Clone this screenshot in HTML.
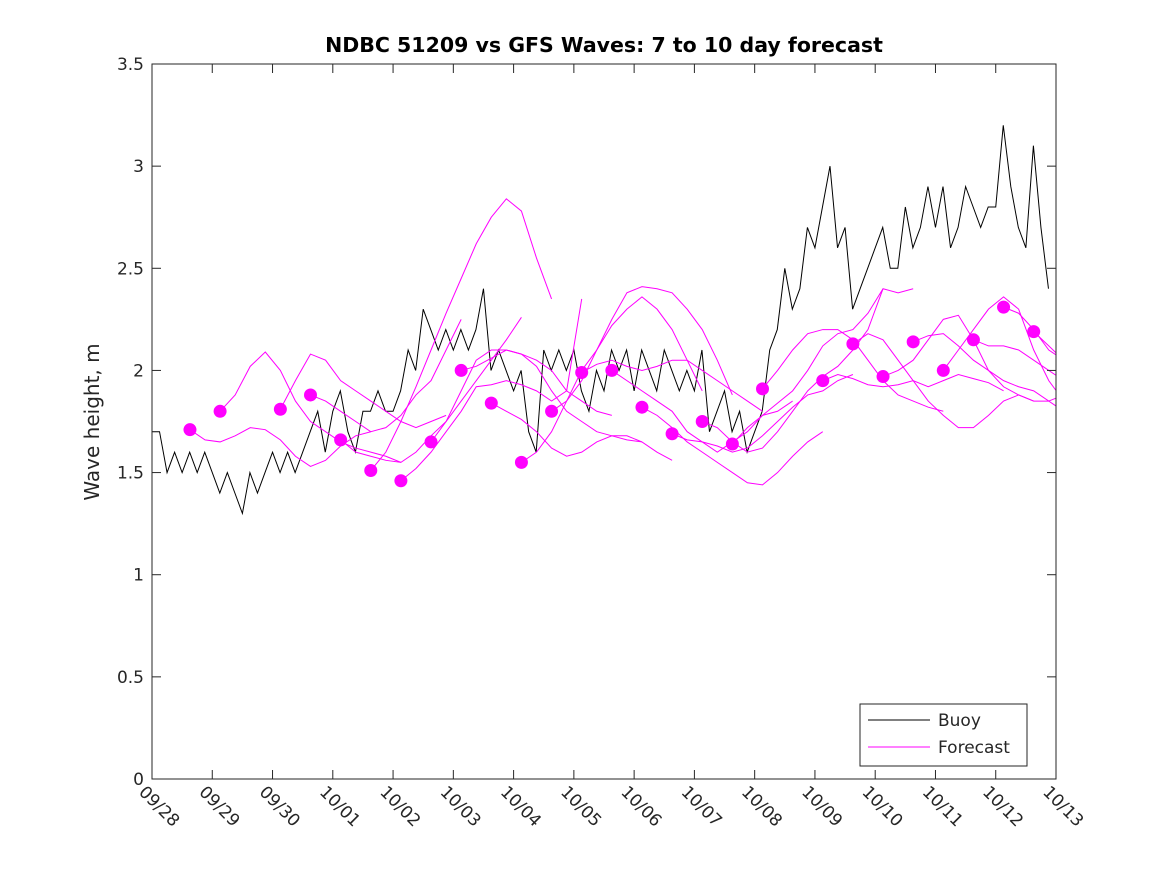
<!DOCTYPE html>
<html><head><meta charset="utf-8"><style>
body{margin:0;background:#fff;}
svg{display:block;font-family:"DejaVu Sans","Liberation Sans",sans-serif;}
</style></head><body>
<svg id="chart" width="1167" height="875" viewBox="0 0 1167 875">
<rect width="1167" height="875" fill="#fff"/>
<text x="604" y="52" text-anchor="middle" font-size="20.5" font-weight="bold" fill="#000">NDBC 51209 vs GFS Waves: 7 to 10 day forecast</text>
<text transform="translate(99,422) rotate(-90)" text-anchor="middle" font-size="20" fill="#262626">Wave height, m</text>
<defs><clipPath id="pc"><rect x="152" y="64" width="904" height="715"/></clipPath></defs>
<g id="series" clip-path="url(#pc)"></g>
<rect x="152" y="64" width="904" height="715" fill="none" stroke="#262626" stroke-width="1"/>
<g id="axes"></g>
<g>
<rect x="860" y="704" width="167" height="62" fill="#fff" stroke="#262626"/>
<line x1="868" y1="720" x2="930" y2="720" stroke="#000"/>
<text x="938" y="726" font-size="17" fill="#262626">Buoy</text>
<line x1="868" y1="747" x2="930" y2="747" stroke="#f0f"/>
<text x="938" y="753" font-size="17" fill="#262626">Forecast</text>
</g>
</svg>
<script>
const xTickLabels=["09/28","09/29","09/30","10/01","10/02","10/03","10/04","10/05","10/06","10/07","10/08","10/09","10/10","10/11","10/12","10/13"];
const yTicks=[0,0.5,1,1.5,2,2.5,3,3.5];
const buoyStep=0.125;
const buoy=[
1.7,1.7,1.5,1.6,1.5,1.6,1.5,1.6,
1.5,1.4,1.5,1.4,1.3,1.5,1.4,1.5,
1.6,1.5,1.6,1.5,1.6,1.7,1.8,1.6,
1.8,1.9,1.7,1.6,1.8,1.8,1.9,1.8,
1.8,1.9,2.1,2.0,2.3,2.2,2.1,2.2,
2.1,2.2,2.1,2.2,2.4,2.0,2.1,2.0,
1.9,2.0,1.7,1.6,2.1,2.0,2.1,2.0,
2.1,1.9,1.8,2.0,1.9,2.1,2.0,2.1,
1.9,2.1,2.0,1.9,2.1,2.0,1.9,2.0,
1.9,2.1,1.7,1.8,1.9,1.7,1.8,1.6,
1.7,1.8,2.1,2.2,2.5,2.3,2.4,2.7,
2.6,2.8,3.0,2.6,2.7,2.3,2.4,2.5,
2.6,2.7,2.5,2.5,2.8,2.6,2.7,2.9,
2.7,2.9,2.6,2.7,2.9,2.8,2.7,2.8,
2.8,3.2,2.9,2.7,2.6,3.1,2.7,2.4];
const fcStarts=[0.63,1.13,2.13,2.63,3.13,3.63,4.13,4.63,5.13,5.63,6.13,6.63,7.13,7.63,8.13,8.63,9.13,9.63,10.13,11.13,11.63,12.13,12.63,13.13,13.63,14.13,14.63];
const fcValues=[
[1.71,1.66,1.65,1.68,1.72,1.71,1.66,1.58,1.53,1.56,1.63,1.68,1.7],
[1.80,1.88,2.02,2.09,2.0,1.85,1.75,1.7,1.65,1.62,1.6,1.58,1.55],
[1.81,1.95,2.08,2.05,1.95,1.9,1.85,1.8,1.75,1.72,1.75,1.78],
[1.88,1.85,1.8,1.75,1.7,1.72,1.78,1.88,1.95,2.1,2.25],
[1.66,1.6,1.58,1.56,1.55,1.6,1.68,1.75,1.85,1.95,2.05,2.15,2.26],
[1.51,1.6,1.75,1.92,2.1,2.28,2.45,2.62,2.75,2.84,2.78,2.55,2.35],
[1.46,1.52,1.6,1.7,1.8,1.92,1.93,1.95,1.93,1.9,1.85,1.9,2.35],
[1.65,1.75,1.9,2.05,2.1,2.1,2.08,2.05,2.0,1.9,1.85,1.8,1.78],
[2.00,2.02,2.06,2.1,2.08,2.02,1.9,1.8,1.75,1.7,1.68,1.66,1.65],
[1.84,1.8,1.76,1.7,1.62,1.58,1.6,1.65,1.68,1.68,1.65,1.6,1.56],
[1.55,1.6,1.7,1.85,2.0,2.1,2.22,2.3,2.36,2.3,2.2,2.05,1.9],
[1.80,1.85,1.95,2.1,2.25,2.38,2.41,2.4,2.38,2.3,2.2,2.05,1.88],
[1.99,2.03,2.05,2.02,2.0,2.02,2.05,2.05,2.0,1.95,1.9,1.85,1.8],
[2.0,1.95,1.9,1.85,1.8,1.7,1.65,1.6,1.65,1.7,1.78,1.8,1.85],
[1.82,1.78,1.72,1.65,1.6,1.55,1.5,1.45,1.44,1.5,1.58,1.65,1.7],
[1.69,1.66,1.65,1.63,1.6,1.62,1.68,1.75,1.82,1.88,1.9,1.95,1.98],
[1.75,1.72,1.65,1.6,1.62,1.7,1.8,1.9,1.97,2.02,2.1,2.2,2.4],
[1.64,1.72,1.78,1.84,1.9,2.0,2.12,2.18,2.2,2.28,2.4,2.38,2.4],
[1.91,2.0,2.1,2.18,2.2,2.2,2.15,2.05,1.95,1.88,1.85,1.82,1.8],
[1.95,1.98,1.96,1.93,1.92,1.93,1.95,1.92,1.95,1.98,1.96,1.94,1.9],
[2.13,2.18,2.15,2.05,1.95,1.85,1.78,1.72,1.72,1.78,1.85,1.88,1.85],
[1.97,2.0,2.05,2.15,2.25,2.27,2.15,2.0,1.92,1.88,1.85,1.85,1.8],
[2.14,2.17,2.18,2.12,2.05,2.0,1.95,1.92,1.9,1.85,1.88,1.85,1.78],
[2.0,2.1,2.2,2.3,2.36,2.3,2.1,1.95,1.85,1.8,1.75,1.7,1.65],
[2.15,2.12,2.12,2.1,2.05,2.0,1.95,1.9,1.9,1.9,1.88,1.88],
[2.31,2.28,2.2,2.1,2.05,2.02],
[2.19,2.12,2.05,2.0]
];
const fcStep=0.25;
const NS="http://www.w3.org/2000/svg";
const X0=152,X1=1056,Y0=779,Y1=64,DAYS=15,YMAX=3.5;
function xs(d){return X0+(X1-X0)*d/DAYS;}
function ys(v){return Y0-(Y0-Y1)*v/YMAX;}
const axes=document.getElementById('axes');
const series=document.getElementById('series');
function mk(tag,attrs,parent){const e=document.createElementNS(NS,tag);for(const k in attrs)e.setAttribute(k,attrs[k]);parent.appendChild(e);return e;}
yTicks.forEach(v=>{
  const y=ys(v);
  const t1=mk('line',{x1:X0,y1:y,x2:X0+9,y2:y,stroke:'#262626'},axes);
  
  
  mk('line',{x1:X1,y1:y,x2:X1-9,y2:y,stroke:'#262626'},axes);
  const t=mk('text',{x:X0-8,y:y+6,'text-anchor':'end','font-size':'17',fill:'#262626'},axes);
  t.textContent=String(v);
  
  
});
xTickLabels.forEach((lab,i)=>{
  const x=xs(i);
  mk('line',{x1:x,y1:Y0,x2:x,y2:Y0-9,stroke:'#262626'},axes);
  mk('line',{x1:x,y1:Y1,x2:x,y2:Y1+9,stroke:'#262626'},axes);
  const t=mk('text',{transform:`translate(${x-14},${Y0+14}) rotate(45)`,'font-size':'17',fill:'#262626'},axes);
  t.textContent=lab;
  
  
});
let d='';
buoy.forEach((v,i)=>{
  const x=xs(i*buoyStep),y=ys(v);
  if(i===0)d+=`M${x},${y}`;else d+=`L${x},${y}`;
});
const bl=mk('path',{d:d,fill:'none',stroke:'#000','stroke-width':'1'},series);


fcValues.forEach((vals,k)=>{
  const s=fcStarts[k];
  const pts=vals.map((v,j)=>`${xs(s+j*fcStep)},${ys(v)}`).join(' ');
  const pl=mk('polyline',{points:pts,fill:'none',stroke:'#ff00ff','stroke-width':'1'},series);
  
  
});
fcValues.forEach((vals,k)=>{
  const c=mk('circle',{cx:xs(fcStarts[k]),cy:ys(vals[0]),r:6.5,fill:'#ff00ff'},series);
  
  
});
</script>
</body></html>
